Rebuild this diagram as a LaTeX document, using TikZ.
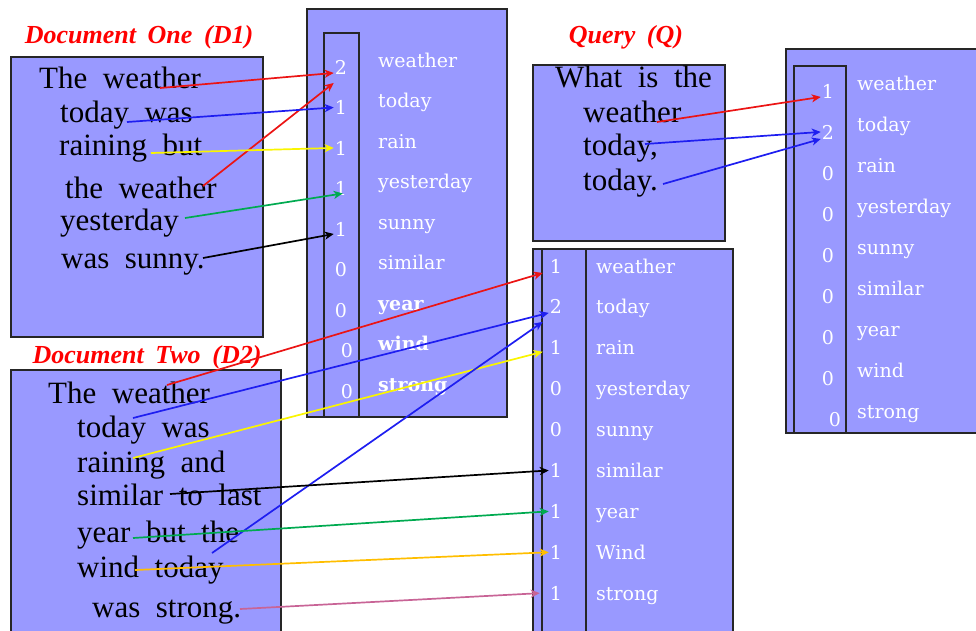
\documentclass[tikz,border=0pt]{standalone}
\usepackage{fontspec}
\setmainfont{Liberation Serif}
\newfontfamily\vecfont{DejaVu Serif}
\usetikzlibrary{arrows.meta}
\definecolor{boxfill}{RGB}{153,153,255}
\definecolor{arrred}{RGB}{235,20,20}
\definecolor{arrblue}{RGB}{30,30,240}
\definecolor{arryellow}{RGB}{250,245,0}
\definecolor{arrgreen}{RGB}{0,170,80}
\definecolor{arrorange}{RGB}{255,190,0}
\definecolor{arrpink}{RGB}{200,100,150}
\tikzset{
  box/.style={draw=black!85, line width=1.3pt, fill=boxfill},
  col/.style={draw=black!85, line width=1.3pt},
  doclabel/.style={text=red, font={\fontsize{26}{30}\selectfont\bfseries\itshape\spaceskip=.45em\relax}, anchor=base, inner sep=0},
  doctext/.style={font={\fontsize{31}{35}\selectfont\spaceskip=.5em\relax}, anchor=base west, inner sep=0},
  cnt/.style={text=white, font={\vecfont\fontsize{19}{22}\selectfont}, anchor=base, inner sep=1pt},
  term/.style={text=white, font={\vecfont\fontsize{19}{22}\selectfont}, anchor=base west, inner sep=0},
  link/.style={line width=1.7pt, -{Stealth[length=9pt,width=8pt,inset=2.5pt]}},
}
\begin{document}
\begin{tikzpicture}[x=1pt,y=-1pt]
	\clip (0,0) rectangle (976,630);
	\draw[box] (11,57) rectangle (263,337);
	\draw[box] (11,370) rectangle (281,640);
	\draw[box] (533,65) rectangle (725,241);
	\draw[box] (307,9) rectangle (507,417);
	\draw[col] (324,33) rectangle (359,417);
	\draw[box] (533,249) rectangle (733,640);
	\draw[col] (542,249) rectangle (586,640);
	\draw[box] (786,49) rectangle (990,433);
	\draw[col] (794,66) rectangle (846,433);

	\node[doclabel] (labone) at (139,43) {Document One (D1)};
	\node[doclabel] (labtwo) at (147,363) {Document Two (D2)};
	\node[doclabel] (labq) at (626,43) {Query (Q)};

	\node[doctext] (one1) at (39,88) {The weather};
	\node[doctext] (one2) at (60,122) {today was};
	\node[doctext] (one3) at (59,155) {raining but};
	\node[doctext] (one4) at (65,198) {the weather};
	\node[doctext] (one5) at (60,230) {yesterday};
	\node[doctext] (one6) at (61,268) {was sunny.};

	\node[doctext] (two1) at (48,403) {The weather};
	\node[doctext] (two2) at (77,437) {today was};
	\node[doctext] (two3) at (77,472) {raining and};
	\node[doctext] (two4) at (77,505) {similar to last};
	\node[doctext] (two5) at (77,542) {year but the};
	\node[doctext] (two6) at (77,577) {wind today};
	\node[doctext] (two7) at (92,617) {was strong.};

	\node[doctext] (qry1) at (555,87) {What is the};
	\node[doctext] (qry2) at (583,122) {weather};
	\node[doctext] (qry3) at (583,155) {today,};
	\node[doctext] (qry4) at (583,190) {today.};

	\foreach \v/\w/\dx [count=\i] in {2/weather/0,1/today/0,1/rain/0,1/yesterday/0,1/sunny/0,0/similar/0,0/{\bfseries year}/0,0/{\bfseries wind}/6,0/{\bfseries strong}/6} {
		\node[cnt] (a\i) at (341+\dx,74+40.5*\i-40.5) {\v};
		\node[term] (wa\i) at (378,67+40.5*\i-40.5) {\w};
	}
	\foreach \v/\w [count=\i] in {1/weather,2/today,1/rain,0/yesterday,0/sunny,1/similar,1/year,1/Wind,1/strong} {
		\node[cnt] (b\i) at (556,273+40.9*\i-40.9) {\v};
		\node[term] (wb\i) at (596,273+40.9*\i-40.9) {\w};
	}
	\foreach \v/\w/\dx [count=\i] in {1/weather/0,2/today/0,0/rain/0,0/yesterday/0,0/sunny/0,0/similar/0,0/year/0,0/wind/0,0/strong/7} {
		\node[cnt] (q\i) at (828+\dx,98+41*\i-41) {\v};
		\node[term] (wq\i) at (857,90+41*\i-41) {\w};
	}

	\coordinate (s11) at (160,88);
	\coordinate (s12) at (203,186);
	\coordinate (s13) at (127,122);
	\coordinate (s14) at (151,153);
	\coordinate (s15) at (185,218);
	\coordinate (s16) at (203,258);
	\draw[link, arrred] (s11) -- ([yshift=-6pt]a1.west);
	\draw[link, arrred] (s12) -- ([yshift=-16pt]a1.west);
	\draw[link, arrblue] (s13) -- (a2.west);
	\draw[link, arryellow] (s14) -- (a3.west);
	\draw[link, arrgreen] (s15) -- ([xshift=9pt,yshift=-5pt]a4.west);
	\draw[link, black] (s16) -- ([yshift=-5pt]a5.west);

	\coordinate (s21) at (167,385);
	\coordinate (s22) at (133,418);
	\coordinate (s23) at (133,458);
	\coordinate (s24) at (212,553);
	\coordinate (s25) at (170,494);
	\coordinate (s26) at (133,538);
	\coordinate (s27) at (135,570);
	\coordinate (s28) at (240,609);
	\draw[link, arrred] (s21) -- ([xshift=-6pt,yshift=-7pt]b1.west);
	\draw[link, arrblue] (s22) -- ([yshift=-6pt]b2.west);
	\draw[link, arryellow] (s23) -- ([xshift=-6pt,yshift=-4pt]b3.west);
	\draw[link, arrblue] (s24) -- ([xshift=-6pt,yshift=-15pt]b2.west);
	\draw[link, black] (s25) -- (b6.west);
	\draw[link, arrgreen] (s26) -- (b7.west);
	\draw[link, arrorange] (s27) -- (b8.west);
	\draw[link, arrpink] (s28) -- ([xshift=-9pt]b9.west);

	\coordinate (s31) at (657,122);
	\coordinate (s32) at (645,144);
	\coordinate (s33) at (663,184);
	\draw[link, arrred] (s31) -- ([yshift=-6pt]q1.west);
	\draw[link, arrblue] (s32) -- (q2.west);
	\draw[link, arrblue] (s33) -- ([yshift=-7pt]q2.west);
\end{tikzpicture}
\end{document}
